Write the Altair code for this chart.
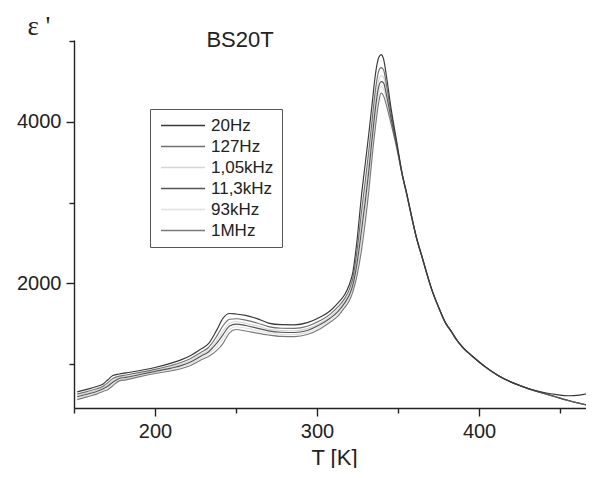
import altair as alt
import pandas as pd

# Temperature grid (K)
T = [152, 158, 164, 168, 171, 174, 178, 182, 190, 200,
     210, 216, 222, 228, 233, 238, 242, 246, 250, 256,
     263, 270, 278, 286, 294, 302, 308, 313, 317, 320,
     322, 324.5, 327.5, 330, 332, 334, 336, 338, 339.5, 341,
     343, 345.5, 349, 352.5, 355.5, 358.5, 361.5, 365, 368, 371,
     375, 379.5, 382.5, 386, 390, 396, 404, 412, 420, 426,
     433, 440, 448, 455, 462, 470]

eps_20Hz = [660, 690, 725, 758, 810, 862, 880, 894, 920, 960,
            1015, 1055, 1110, 1185, 1255, 1420, 1570, 1628, 1622, 1605,
            1565, 1510, 1490, 1488, 1515, 1585, 1660, 1760, 1860, 1990,
            2130, 2500, 3100, 3520, 3860, 4220, 4580, 4790, 4830, 4780,
            4540, 4190, 3774, 3365, 3100, 2820, 2560, 2320, 2110, 1917,
            1710, 1508, 1420, 1310, 1210, 1100, 968, 860, 780, 732,
            685, 652, 625, 612, 620, 655]

eps_127Hz = [631, 662, 697, 730, 774, 824, 854, 868, 898, 938,
             986, 1022, 1072, 1144, 1208, 1345, 1477, 1557, 1564, 1547,
             1511, 1466, 1446, 1444, 1471, 1542, 1618, 1712, 1812, 1930,
             2058, 2374, 2896, 3304, 3647, 4022, 4385, 4622, 4668, 4642,
             4435, 4130, 3749, 3359, 3096, 2816, 2556, 2317, 2107, 1914,
             1708, 1506, 1418, 1308, 1208, 1098, 967, 859, 779, 731,
             682, 643, 594, 554, 519, 484]

eps_1_05kHz = [612, 644, 678, 712, 750, 798, 838, 851, 882, 923,
               968, 1000, 1048, 1118, 1176, 1295, 1415, 1509, 1526, 1508,
               1475, 1436, 1418, 1415, 1442, 1512, 1590, 1680, 1780, 1890,
               2010, 2290, 2760, 3160, 3505, 3890, 4255, 4510, 4570, 4550,
               4365, 4090, 3732, 3355, 3092, 2812, 2554, 2315, 2105, 1912,
               1706, 1504, 1416, 1307, 1207, 1097, 966, 858, 778, 731,
               681, 642, 593, 553, 518, 483]

eps_11_3kHz = [598, 630, 665, 698, 732, 779, 825, 838, 871, 912,
               953, 984, 1029, 1097, 1153, 1258, 1368, 1473, 1497, 1480,
               1448, 1414, 1396, 1393, 1419, 1491, 1569, 1656, 1756, 1860,
               1974, 2227, 2658, 3052, 3398, 3791, 4158, 4426, 4495, 4481,
               4312, 4060, 3719, 3352, 3090, 2810, 2552, 2313, 2103, 1911,
               1705, 1503, 1415, 1306, 1207, 1097, 965, 858, 778, 730,
               681, 641, 593, 553, 518, 483]

eps_93kHz = [581, 615, 649, 682, 712, 758, 810, 824, 858, 899,
             937, 965, 1008, 1074, 1126, 1215, 1316, 1433, 1465, 1447,
             1417, 1389, 1371, 1368, 1395, 1466, 1545, 1629, 1729, 1826,
             1933, 2156, 2542, 2930, 3278, 3679, 4047, 4331, 4433, 4403,
             4253, 4026, 3705, 3349, 3088, 2808, 2550, 2312, 2102, 1910,
             1703, 1501, 1414, 1305, 1206, 1096, 965, 857, 777, 730,
             680, 640, 592, 552, 517, 482]

eps_1MHz = [564, 598, 632, 665, 690, 735, 795, 808, 845, 886,
            920, 945, 985, 1050, 1098, 1170, 1260, 1390, 1430, 1412,
            1385, 1362, 1345, 1342, 1368, 1440, 1520, 1600, 1700, 1790,
            1890, 2080, 2420, 2800, 3150, 3560, 3930, 4230, 4353, 4320,
            4190, 3990, 3690, 3345, 3085, 2805, 2548, 2310, 2100, 1908,
            1702, 1500, 1413, 1304, 1205, 1095, 964, 857, 777, 730,
            680, 640, 592, 552, 517, 482]

freqs = ["20Hz", "127Hz", "1,05kHz", "11,3kHz", "93kHz", "1MHz"]
colors = ["#383838", "#707070", "#d6d6d6", "#555555", "#e0e0e0", "#7a7a7a"]
series = [eps_20Hz, eps_127Hz, eps_1_05kHz, eps_11_3kHz, eps_93kHz, eps_1MHz]

# draw light curves first so the dark ones sit on top
draw_order = [2, 4, 1, 5, 3, 0]
rows = []
for k, i in enumerate(draw_order):
    for t, v in zip(T, series[i]):
        rows.append({"T": t, "eps": v, "freq": freqs[i], "ord": k})
df = pd.DataFrame(rows)

x_scale = alt.Scale(domain=[150, 466], nice=False, zero=False)
y_scale = alt.Scale(domain=[460, 5010], nice=False, zero=False)

ax_common = dict(domainColor="#222222", tickColor="#222222", labelColor="#222222",
                 titleColor="#222222", grid=False, labelFont="Liberation Sans",
                 tickWidth=1.4, domainWidth=1.4)

x_major = alt.Axis(orient="bottom", values=[200, 300, 400], tickSize=8, format="d",
                   labelFontSize=20, labelPadding=5, title="T [K]",
                   titleFont="Liberation Sans", titleFontSize=22, titleFontWeight="normal",
                   titleX=260, titleY=56, titleAlign="center", titleBaseline="alphabetic",
                   **ax_common)
x_minor = alt.Axis(orient="bottom", values=[150, 250, 350, 450], tickSize=5,
                   labels=False, domain=False, title=None, **ax_common)
y_major = alt.Axis(orient="left", values=[2000, 4000], tickSize=8, format="d",
                   labelFontSize=20, labelPadding=5, title="ε '",
                   titleFont="Liberation Serif", titleFontSize=27, titleFontWeight="normal",
                   titleAngle=0, titleX=-47, titleY=-6, titleAlign="left",
                   titleBaseline="alphabetic", **ax_common)
y_minor = alt.Axis(orient="left", values=[1000, 3000, 5000], tickSize=5,
                   labels=False, domain=False, title=None, **ax_common)

lines = alt.Chart(df).mark_line(interpolate="monotone", strokeWidth=1.15, clip=True).encode(
    x=alt.X("T:Q", scale=x_scale, axis=x_major),
    y=alt.Y("eps:Q", scale=y_scale, axis=y_major),
    color=alt.Color("freq:N", sort=freqs,
                    scale=alt.Scale(domain=freqs, range=colors),
                    legend=alt.Legend(orient="none", legendX=76, legendY=69, title=None,
                                      strokeColor="#555555", padding=8,
                                      symbolType="M-1,0H7", symbolSize=121,
                                      symbolStrokeWidth=1.3, labelFontSize=17,
                                      labelFont="Liberation Sans", labelColor="#222222",
                                      labelOffset=36, rowPadding=3)),
    order=alt.Order("ord:Q"),
    detail="freq:N",
)

minor = alt.Chart(df).mark_line(opacity=0, clip=True).encode(
    x=alt.X("T:Q", scale=x_scale, axis=x_minor),
    y=alt.Y("eps:Q", scale=y_scale, axis=y_minor),
    detail="freq:N",
)

label_df = pd.DataFrame({"txt": ["BS20T"]})
title_txt = alt.Chart(label_df).mark_text(
    font="Liberation Sans", fontSize=22, color="#222222", align="center",
    baseline="alphabetic"
).encode(text="txt:N", x=alt.value(166), y=alt.value(7))

chart = alt.layer(lines, minor, title_txt).resolve_axis(
    x="independent", y="independent"
).properties(
    width=512, height=368,
    padding={"left": 66, "top": 32, "right": 0, "bottom": 60},
    autosize=alt.AutoSizeParams(type="none"),
    background="white",
).configure_view(stroke=None)

chart.save("out.html", embed_options={"renderer": "svg", "actions": False})
